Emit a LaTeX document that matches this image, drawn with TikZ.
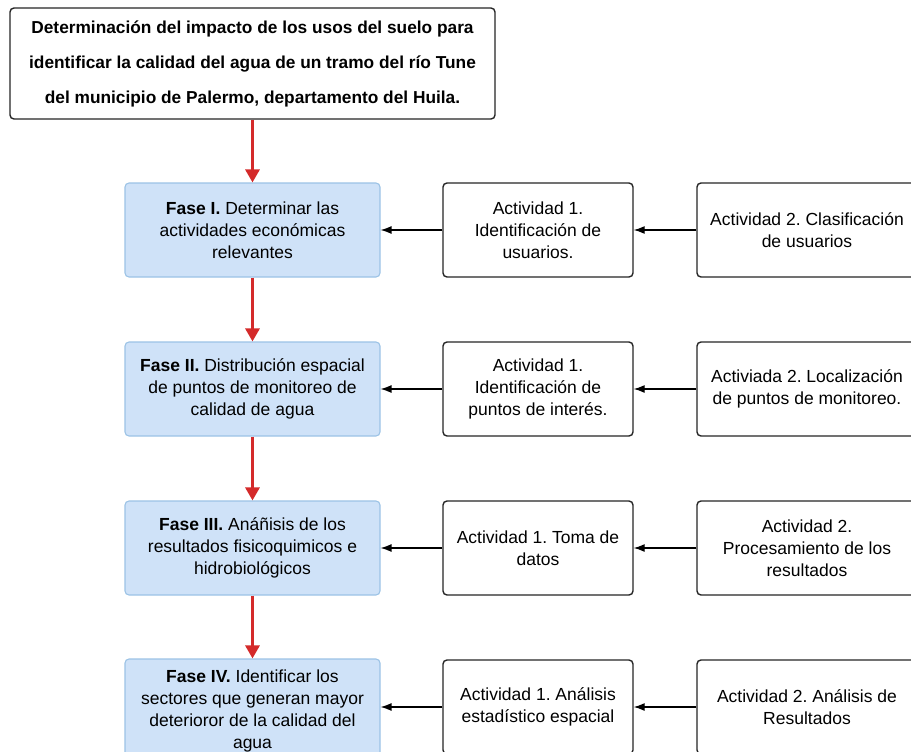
\documentclass[tikz,border=0pt]{standalone}
\usepackage{fontspec}
\setmainfont{Liberation Sans}
\usetikzlibrary{arrows.meta}
\frenchspacing
\definecolor{phasefill}{HTML}{CFE2F8}
\definecolor{phasedraw}{HTML}{9CC3E6}
\definecolor{redarrow}{HTML}{D42A2A}
\tikzset{
  titlebox/.style={draw=black!85, line width=1.4pt, rounded corners=4pt, fill=white,
    minimum width=485pt, minimum height=111pt, align=center, inner sep=0pt,
    font=\fontsize{17.3}{35}\selectfont\bfseries},
  phasebox/.style={draw=phasedraw, line width=1.1pt, fill=phasefill, rounded corners=4pt,
    minimum width=255pt, minimum height=94pt, align=center, inner sep=0pt,
    font=\fontsize{17.5}{22}\selectfont},
  actbox/.style={draw=black!85, line width=1.4pt, fill=white, rounded corners=4pt,
    minimum height=94pt, align=center, inner sep=0pt,
    font=\fontsize{17.5}{22}\selectfont},
  redarr/.style={draw=redarrow, line width=3pt, -{Triangle[length=13pt,width=14pt]}},
  blackarr/.style={draw=black, line width=1.3pt, -{Latex[length=11pt,width=8pt]}}
}
\begin{document}
\begin{tikzpicture}[x=1pt,y=-1pt]
\useasboundingbox (0,0) rectangle (911,752);
\clip (0,0) rectangle (911,752);
\fill[white] (0,0) rectangle (911,752);

\node[titlebox] (title) at (252.5,63.5) {Determinación del impacto de los usos del suelo para\\identificar la calidad del agua de un tramo del río Tune\\del municipio de Palermo, departamento del Huila.};

\node[phasebox] (f1) at (252.5,230) {\textbf{Fase I.} Determinar las\\actividades económicas\\relevantes};
\node[phasebox] (f2) at (252.5,389) {\textbf{Fase II.} Distribución espacial\\de puntos de monitoreo de\\calidad de agua};
\node[phasebox] (f3) at (252.5,548) {\textbf{Fase III.} Anáñisis de los\\resultados fisicoquimicos e\\hidrobiológicos};
\node[phasebox, minimum height=104pt] (f4) at (252.5,711) {\textbf{Fase IV.} Identificar los\\sectores que generan mayor\\deterioror de la calidad del\\agua};

\node[actbox, minimum width=190pt] (a11) at (538,230) {Actividad 1.\\Identificación de\\usuarios.};
\node[actbox, minimum width=190pt] (a21) at (538,389) {Actividad 1.\\Identificación de\\puntos de interés.};
\node[actbox, minimum width=190pt] (a31) at (538,548) {Actividad 1. Toma de\\datos};
\node[actbox, minimum width=190pt] (a41) at (538,707) {Actividad 1. Análisis\\estadístico espacial};

\node[actbox, minimum width=220pt] (a12) at (807,230) {Actividad 2. Clasificación\\de usuarios};
\node[actbox, minimum width=220pt] (a22) at (807,389) {Activiada 2. Localización\\de puntos de monitoreo.};
\node[actbox, minimum width=220pt] (a32) at (807,548) {Actividad 2.\\Procesamiento de los\\resultados};
\node[actbox, minimum width=220pt] (a42) at (807,707) {Actividad 2. Análisis de\\Resultados};

\draw[redarr] (title.south) -- (f1.north);
\draw[redarr] (f1.south) -- (f2.north);
\draw[redarr] (f2.south) -- (f3.north);
\draw[redarr] (f3.south) -- (f4.north);

\foreach \r in {1,2,3}{
  \draw[blackarr] (a\r1.west) -- (f\r.east);
}
\draw[blackarr] (a41.west) -- (a41.west -| f4.east);
\foreach \r in {1,2,3,4}{
  \draw[blackarr] (a\r2.west) -- (a\r1.east);
}
\end{tikzpicture}
\end{document}
